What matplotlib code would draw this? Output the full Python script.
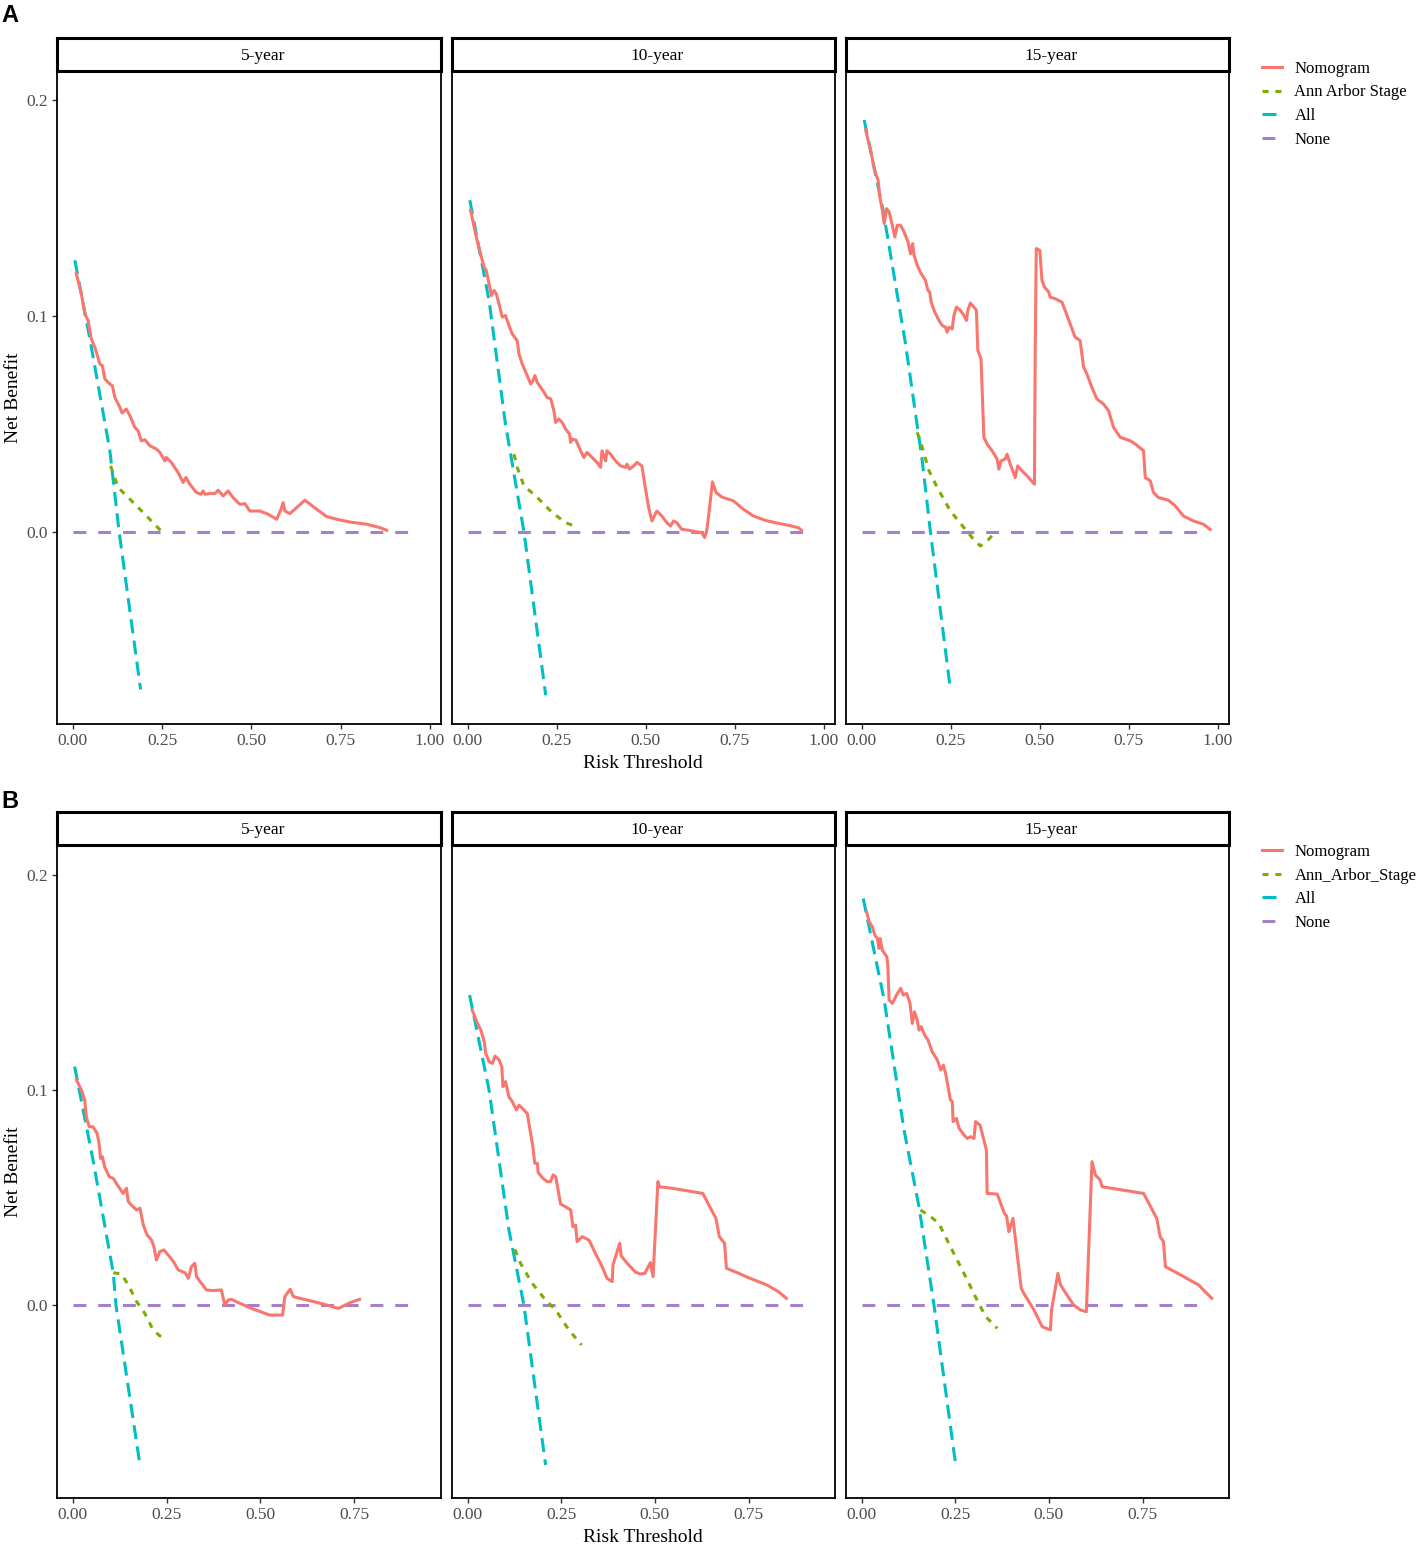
import matplotlib.pyplot as plt
from matplotlib.lines import Line2D

plt.rcParams['font.family'] = ['Liberation Serif', 'DejaVu Serif']

# ---- data ----
years = ["5-year", "10-year", "15-year"]

# Panel A, 5-year
a5_nomo_x = [0.010, 0.024, 0.034, 0.043, 0.052, 0.062, 0.076, 0.083, 0.090, 0.104, 0.111, 0.118, 0.132, 0.138,
             0.150, 0.160, 0.174, 0.183, 0.192, 0.202, 0.216, 0.234, 0.244, 0.258, 0.262, 0.276, 0.295, 0.309,
             0.317, 0.328, 0.346, 0.360, 0.365, 0.370, 0.388, 0.398, 0.407, 0.421, 0.435, 0.449, 0.468, 0.482,
             0.496, 0.524, 0.547, 0.571, 0.585, 0.589, 0.594, 0.608, 0.650, 0.683, 0.711, 0.739, 0.776, 0.823,
             0.860, 0.879]
a5_nomo_y = [0.1196, 0.1103, 0.1010, 0.0979, 0.0894, 0.0855, 0.0778, 0.0770, 0.0708, 0.0685, 0.0677, 0.0623,
             0.0577, 0.0551, 0.0569, 0.0538, 0.0484, 0.0469, 0.0422, 0.0427, 0.0399, 0.0384, 0.0368, 0.0329,
             0.0345, 0.0322, 0.0275, 0.0229, 0.0252, 0.0221, 0.0183, 0.0175, 0.0190, 0.0175, 0.0179, 0.0178,
             0.0193, 0.0167, 0.0190, 0.0159, 0.0128, 0.0131, 0.0097, 0.0097, 0.0082, 0.0059, 0.0113, 0.0136,
             0.0097, 0.0085, 0.0147, 0.0105, 0.0071, 0.0059, 0.0046, 0.0036, 0.0020, 0.0008]
a5_stage_x = [0.106, 0.127, 0.160, 0.202, 0.250]
a5_stage_y = [0.0306, 0.0206, 0.0152, 0.0082, 0.0000]
a5_all_x = [0.006, 0.048, 0.104, 0.130, 0.190]
a5_all_y = [0.1258, 0.0894, 0.0376, 0.0000, -0.0729]

# Panel A, 10-year
a10_nomo_x = [0.008, 0.022, 0.036, 0.046, 0.052, 0.060, 0.067, 0.074, 0.080, 0.088, 0.097, 0.106, 0.116,
              0.125, 0.135, 0.139, 0.144, 0.153, 0.167, 0.177, 0.183, 0.189, 0.195, 0.214, 0.223, 0.233,
              0.242, 0.247, 0.256, 0.265, 0.275, 0.286, 0.289, 0.293, 0.304, 0.317, 0.326, 0.335, 0.349,
              0.363, 0.373, 0.377, 0.387, 0.391, 0.401, 0.415, 0.429, 0.443, 0.447, 0.454, 0.466, 0.475,
              0.489, 0.497, 0.508, 0.517, 0.531, 0.545, 0.559, 0.569, 0.578, 0.587, 0.601, 0.620, 0.639,
              0.657, 0.665, 0.671, 0.679, 0.687, 0.697, 0.713, 0.746, 0.774, 0.802, 0.835, 0.863, 0.900,
              0.928, 0.937]
a10_nomo_y = [0.1490, 0.1381, 0.1288, 0.1227, 0.1211, 0.1149, 0.1095, 0.1118, 0.1103, 0.1056, 0.0995,
              0.1002, 0.0956, 0.0917, 0.0894, 0.0886, 0.0824, 0.0778, 0.0724, 0.0685, 0.0701, 0.0724,
              0.0693, 0.0647, 0.0623, 0.0616, 0.0561, 0.0507, 0.0523, 0.0507, 0.0476, 0.0453, 0.0415,
              0.0430, 0.0425, 0.0376, 0.0345, 0.0368, 0.0345, 0.0322, 0.0299, 0.0376, 0.0329, 0.0376,
              0.0360, 0.0329, 0.0306, 0.0299, 0.0314, 0.0291, 0.0306, 0.0322, 0.0306, 0.0221, 0.0113,
              0.0051, 0.0097, 0.0074, 0.0043, 0.0028, 0.0051, 0.0043, 0.0012, 0.0008, 0.0002, -0.0003,
              -0.0026, 0.0005, 0.0113, 0.0232, 0.0183, 0.0162, 0.0144, 0.0105, 0.0074, 0.0054, 0.0043,
              0.0031, 0.0020, 0.0008]
a10_stage_x = [0.130, 0.139, 0.158, 0.191, 0.237, 0.275, 0.307]
a10_stage_y = [0.0360, 0.0299, 0.0213, 0.0167, 0.0090, 0.0043, 0.0023]
a10_all_x = [0.006, 0.060, 0.106, 0.158, 0.219]
a10_all_y = [0.1536, 0.1072, 0.0500, 0.0000, -0.0756]

# Panel A, 15-year
a15_nomo_x = [0.011, 0.025, 0.036, 0.046, 0.051, 0.058, 0.063, 0.070, 0.077, 0.086, 0.093, 0.100, 0.109,
              0.119, 0.130, 0.137, 0.143, 0.147, 0.156, 0.167, 0.179, 0.186, 0.191, 0.195, 0.205, 0.217,
              0.226, 0.235, 0.240, 0.245, 0.254, 0.259, 0.266, 0.277, 0.287, 0.294, 0.298, 0.305, 0.315,
              0.322, 0.326, 0.335, 0.343, 0.352, 0.366, 0.380, 0.385, 0.391, 0.403, 0.408, 0.417, 0.431,
              0.438, 0.450, 0.464, 0.485, 0.487, 0.490, 0.500, 0.506, 0.513, 0.525, 0.529, 0.543, 0.562,
              0.571, 0.585, 0.599, 0.613, 0.623, 0.632, 0.646, 0.660, 0.679, 0.693, 0.707, 0.726, 0.754,
              0.768, 0.791, 0.796, 0.810, 0.819, 0.833, 0.861, 0.880, 0.903, 0.931, 0.959, 0.978]
a15_nomo_y = [0.1861, 0.1768, 0.1675, 0.1629, 0.1551, 0.1490, 0.1428, 0.1497, 0.1482, 0.1420, 0.1366,
              0.1420, 0.1420, 0.1389, 0.1343, 0.1288, 0.1335, 0.1281, 0.1234, 0.1196, 0.1165, 0.1118,
              0.1111, 0.1064, 0.1018, 0.0979, 0.0956, 0.0948, 0.0925, 0.0948, 0.0940, 0.1002, 0.1041,
              0.1026, 0.1002, 0.0979, 0.1026, 0.1060, 0.1041, 0.1026, 0.0840, 0.0801, 0.0438, 0.0407,
              0.0376, 0.0338, 0.0291, 0.0329, 0.0338, 0.0360, 0.0314, 0.0252, 0.0306, 0.0283, 0.0260,
              0.0221, 0.0817, 0.1312, 0.1304, 0.1165, 0.1134, 0.1111, 0.1087, 0.1080, 0.1064, 0.1026,
              0.0964, 0.0902, 0.0886, 0.0763, 0.0732, 0.0670, 0.0616, 0.0592, 0.0561, 0.0484, 0.0438,
              0.0422, 0.0407, 0.0376, 0.0252, 0.0237, 0.0183, 0.0159, 0.0147, 0.0121, 0.0074, 0.0051,
              0.0036, 0.0012]
a15_stage_x = [0.156, 0.170, 0.189, 0.212, 0.249, 0.287, 0.310, 0.333, 0.352, 0.371]
a15_stage_y = [0.0461, 0.0391, 0.0283, 0.0206, 0.0097, 0.0020, -0.0026, -0.0065, -0.0042, -0.0008]
a15_all_x = [0.007, 0.060, 0.123, 0.170, 0.193, 0.249]
a15_all_y = [0.1907, 0.1490, 0.0871, 0.0330, 0.0000, -0.0729]

# Panel B, 5-year
b5_nomo_x = [0.010, 0.023, 0.032, 0.036, 0.044, 0.054, 0.065, 0.070, 0.074, 0.079, 0.085, 0.097, 0.108,
             0.116, 0.134, 0.143, 0.148, 0.156, 0.170, 0.179, 0.188, 0.198, 0.210, 0.216, 0.223, 0.232,
             0.243, 0.254, 0.268, 0.281, 0.299, 0.308, 0.316, 0.325, 0.330, 0.339, 0.356, 0.374, 0.396,
             0.405, 0.414, 0.423, 0.445, 0.476, 0.525, 0.559, 0.565, 0.579, 0.588, 0.605, 0.641, 0.676,
             0.708, 0.739, 0.764]
b5_nomo_y = [0.1047, 0.1000, 0.0953, 0.0876, 0.0829, 0.0829, 0.0798, 0.0752, 0.0682, 0.0690, 0.0643,
             0.0597, 0.0589, 0.0566, 0.0519, 0.0543, 0.0481, 0.0465, 0.0442, 0.0450, 0.0372, 0.0326,
             0.0302, 0.0271, 0.0209, 0.0248, 0.0256, 0.0233, 0.0202, 0.0163, 0.0150, 0.0124, 0.0178,
             0.0194, 0.0132, 0.0109, 0.0070, 0.0067, 0.0070, 0.0000, 0.0023, 0.0026, 0.0008, -0.0016,
             -0.0047, -0.0047, 0.0039, 0.0073, 0.0039, 0.0031, 0.0016, 0.0000, -0.0016, 0.0011, 0.0026]
b5_stage_x = [0.108, 0.130, 0.148, 0.170, 0.192, 0.214, 0.232, 0.252]
b5_stage_y = [0.0150, 0.0144, 0.0093, 0.0016, -0.0039, -0.0116, -0.0144, -0.0150]
b5_all_x = [0.005, 0.054, 0.108, 0.115, 0.179]
b5_all_y = [0.1109, 0.0674, 0.0147, 0.0000, -0.0744]

# Panel B, 10-year
b10_nomo_x = [0.012, 0.026, 0.035, 0.044, 0.048, 0.057, 0.066, 0.073, 0.084, 0.091, 0.094, 0.101, 0.110,
              0.119, 0.130, 0.137, 0.146, 0.159, 0.165, 0.174, 0.179, 0.186, 0.188, 0.201, 0.212, 0.221,
              0.228, 0.235, 0.248, 0.261, 0.275, 0.281, 0.288, 0.292, 0.306, 0.324, 0.341, 0.359, 0.372,
              0.386, 0.388, 0.399, 0.406, 0.410, 0.430, 0.448, 0.461, 0.473, 0.488, 0.495, 0.508, 0.512,
              0.546, 0.628, 0.644, 0.663, 0.672, 0.686, 0.691, 0.724, 0.750, 0.799, 0.830, 0.851]
b10_nomo_y = [0.1372, 0.1310, 0.1279, 0.1225, 0.1171, 0.1132, 0.1124, 0.1158, 0.1140, 0.1109, 0.1016,
              0.1039, 0.0969, 0.0946, 0.0907, 0.0930, 0.0915, 0.0891, 0.0829, 0.0736, 0.0659, 0.0659,
              0.0616, 0.0589, 0.0574, 0.0574, 0.0605, 0.0597, 0.0470, 0.0457, 0.0442, 0.0364, 0.0372,
              0.0295, 0.0318, 0.0302, 0.0240, 0.0178, 0.0124, 0.0109, 0.0186, 0.0248, 0.0287, 0.0228,
              0.0186, 0.0153, 0.0144, 0.0147, 0.0197, 0.0132, 0.0574, 0.0550, 0.0543, 0.0519, 0.0465,
              0.0403, 0.0318, 0.0287, 0.0171, 0.0147, 0.0127, 0.0093, 0.0062, 0.0031]
b10_stage_x = [0.126, 0.141, 0.172, 0.208, 0.235, 0.270, 0.304]
b10_stage_y = [0.0259, 0.0194, 0.0101, 0.0023, -0.0023, -0.0116, -0.0186]
b10_all_x = [0.005, 0.057, 0.110, 0.150, 0.208]
b10_all_y = [0.1442, 0.1000, 0.0349, 0.0000, -0.0744]

# Panel B, 15-year
b15_nomo_x = [0.013, 0.020, 0.028, 0.035, 0.042, 0.046, 0.049, 0.055, 0.067, 0.070, 0.073, 0.082, 0.093,
              0.104, 0.111, 0.120, 0.129, 0.135, 0.141, 0.148, 0.153, 0.159, 0.168, 0.177, 0.188, 0.202,
              0.211, 0.218, 0.224, 0.237, 0.242, 0.244, 0.253, 0.260, 0.273, 0.282, 0.291, 0.300, 0.304,
              0.316, 0.333, 0.335, 0.362, 0.381, 0.387, 0.393, 0.404, 0.426, 0.433, 0.460, 0.482, 0.504,
              0.507, 0.524, 0.531, 0.548, 0.566, 0.584, 0.600, 0.615, 0.624, 0.637, 0.642, 0.753, 0.788,
              0.797, 0.806, 0.811, 0.860, 0.900, 0.917, 0.935]
b15_nomo_y = [0.1829, 0.1783, 0.1760, 0.1721, 0.1705, 0.1659, 0.1705, 0.1651, 0.1620, 0.1574, 0.1419,
              0.1403, 0.1442, 0.1473, 0.1442, 0.1450, 0.1403, 0.1310, 0.1364, 0.1326, 0.1279, 0.1295,
              0.1256, 0.1233, 0.1178, 0.1140, 0.1093, 0.1116, 0.1078, 0.0953, 0.0946, 0.0853, 0.0868,
              0.0822, 0.0791, 0.0775, 0.0783, 0.0775, 0.0853, 0.0837, 0.0721, 0.0519, 0.0516, 0.0426,
              0.0414, 0.0341, 0.0403, 0.0078, 0.0054, -0.0023, -0.0101, -0.0116, -0.0023, 0.0147, 0.0093,
              0.0047, 0.0000, -0.0023, -0.0031, 0.0667, 0.0605, 0.0581, 0.0550, 0.0519, 0.0403, 0.0318,
              0.0295, 0.0178, 0.0132, 0.0093, 0.0062, 0.0031]
b15_stage_x = [0.157, 0.184, 0.206, 0.228, 0.255, 0.282, 0.308, 0.331, 0.362]
b15_stage_y = [0.0442, 0.0411, 0.0380, 0.0302, 0.0209, 0.0116, 0.0023, -0.0054, -0.0109]
b15_all_x = [0.004, 0.060, 0.113, 0.153, 0.193, 0.251]
b15_all_y = [0.1891, 0.1419, 0.0814, 0.0457, 0.0000, -0.0744]

# treat-none reference line
none_a_x = [0.0, 0.95]
none_b_x = [0.0, 0.91]
none_y = [0.0, 0.0]

xticks_a = [0.0, 0.25, 0.5, 0.75, 1.0]
xticks_b = [0.0, 0.25, 0.5, 0.75]
yticks = [0.0, 0.1, 0.2]

# ---- styling ----
c_nomo = '#F8766D'
c_stage = '#7CAE00'
c_all = '#00BFC4'
c_none = '#A47FCB'
lw = 2.2
tick_grey = '#4D4D4D'
d_none = (4.2, 3.9)
d_all = (4.6, 2.4)
d_stage = (2.0, 2.2)

W, H = 1418, 1544
fig = plt.figure(figsize=(W / 100, H / 100), dpi=100)


def box(x0, x1, y0, y1):
    return [x0 / W, 1 - y1 / H, (x1 - x0) / W, (y1 - y0) / H]


cols = [(57, 441), (452, 835), (846, 1229)]
rows = [
    dict(panel=(71, 724), strip=(38, 71), xlim=(-0.044, 1.031), ylim=(-0.0889, 0.2134), xticks=xticks_a,
         none_x=none_a_x, stage_name="Ann Arbor Stage", legend_top=61,
         series=[(a5_nomo_x, a5_nomo_y, a5_stage_x, a5_stage_y, a5_all_x, a5_all_y),
                 (a10_nomo_x, a10_nomo_y, a10_stage_x, a10_stage_y, a10_all_x, a10_all_y),
                 (a15_nomo_x, a15_nomo_y, a15_stage_x, a15_stage_y, a15_all_x, a15_all_y)]),
    dict(panel=(845, 1498), strip=(812, 845), xlim=(-0.042, 0.981), ylim=(-0.0898, 0.2140), xticks=xticks_b,
         none_x=none_b_x, stage_name="Ann_Arbor_Stage", legend_top=844,
         series=[(b5_nomo_x, b5_nomo_y, b5_stage_x, b5_stage_y, b5_all_x, b5_all_y),
                 (b10_nomo_x, b10_nomo_y, b10_stage_x, b10_stage_y, b10_all_x, b10_all_y),
                 (b15_nomo_x, b15_nomo_y, b15_stage_x, b15_stage_y, b15_all_x, b15_all_y)]),
]

for r, row in enumerate(rows):
    for c, (x0, x1) in enumerate(cols):
        ax = fig.add_axes(box(x0, x1, *row['panel']))
        nx, ny, sx, sy, ax_x, ax_y = row['series'][c]
        ax.plot(row['none_x'], none_y, color=c_none, lw=lw, dashes=d_none)
        ax.plot(ax_x, ax_y, color=c_all, lw=lw, dashes=d_all)
        ax.plot(sx, sy, color=c_stage, lw=lw, dashes=d_stage)
        ax.plot(nx, ny, color=c_nomo, lw=lw, solid_joinstyle='round')
        ax.set_xlim(*row['xlim'])
        ax.set_ylim(*row['ylim'])
        ax.set_xticks(row['xticks'])
        ax.set_xticklabels(["%.2f" % v for v in row['xticks']])
        ax.spines['top'].set_visible(False)
        for s in ['left', 'right', 'bottom']:
            ax.spines[s].set_linewidth(1.3)
            ax.spines[s].set_color('black')
        ax.tick_params(axis='both', direction='out', length=3.5, width=1.0, color='#333333',
                       labelsize=12.5, labelcolor=tick_grey, pad=3)
        if c == 0:
            ax.set_yticks(yticks)
            ax.set_yticklabels(["%.1f" % v for v in yticks])
            ax.set_ylabel("Net Benefit", fontsize=14, labelpad=3)
        else:
            ax.set_yticks([])

        # facet strip
        st = fig.add_axes(box(x0, x1, *row['strip']))
        st.set_xticks([])
        st.set_yticks([])
        for s in st.spines.values():
            s.set_linewidth(2.2)
            s.set_color('black')
        xc = ((x0 + x1) / 2 + 14) / W
        yc = 1 - (sum(row['strip']) / 2 + 1) / H
        fig.text(xc, yc, years[c], ha='center', va='center', fontsize=12.5)

    # x title
    ytitle = row['panel'][1] + 40
    fig.text(643 / W, 1 - ytitle / H, "Risk Threshold", ha='center', va='center', fontsize=14)

    # legend
    handles = [Line2D([], [], color=c_nomo, lw=lw),
               Line2D([], [], color=c_stage, lw=lw, dashes=d_stage),
               Line2D([], [], color=c_all, lw=lw, dashes=d_all),
               Line2D([], [], color=c_none, lw=lw, dashes=d_none)]
    labels = ["Nomogram", row['stage_name'], "All", "None"]
    fig.legend(handles, labels, loc='upper left', bbox_to_anchor=(1262 / W, 1 - row['legend_top'] / H),
               frameon=False, fontsize=12, handlelength=1.2, handletextpad=0.75, labelspacing=0.45,
               borderaxespad=0, borderpad=0)

# panel tags
fig.text(1 / W, 1 - 16 / H, "A", fontsize=17, fontweight='bold', family='Liberation Sans', va='center')
fig.text(1 / W, 1 - 802 / H, "B", fontsize=17, fontweight='bold', family='Liberation Sans', va='center')

fig.savefig("out.png", dpi=100)
